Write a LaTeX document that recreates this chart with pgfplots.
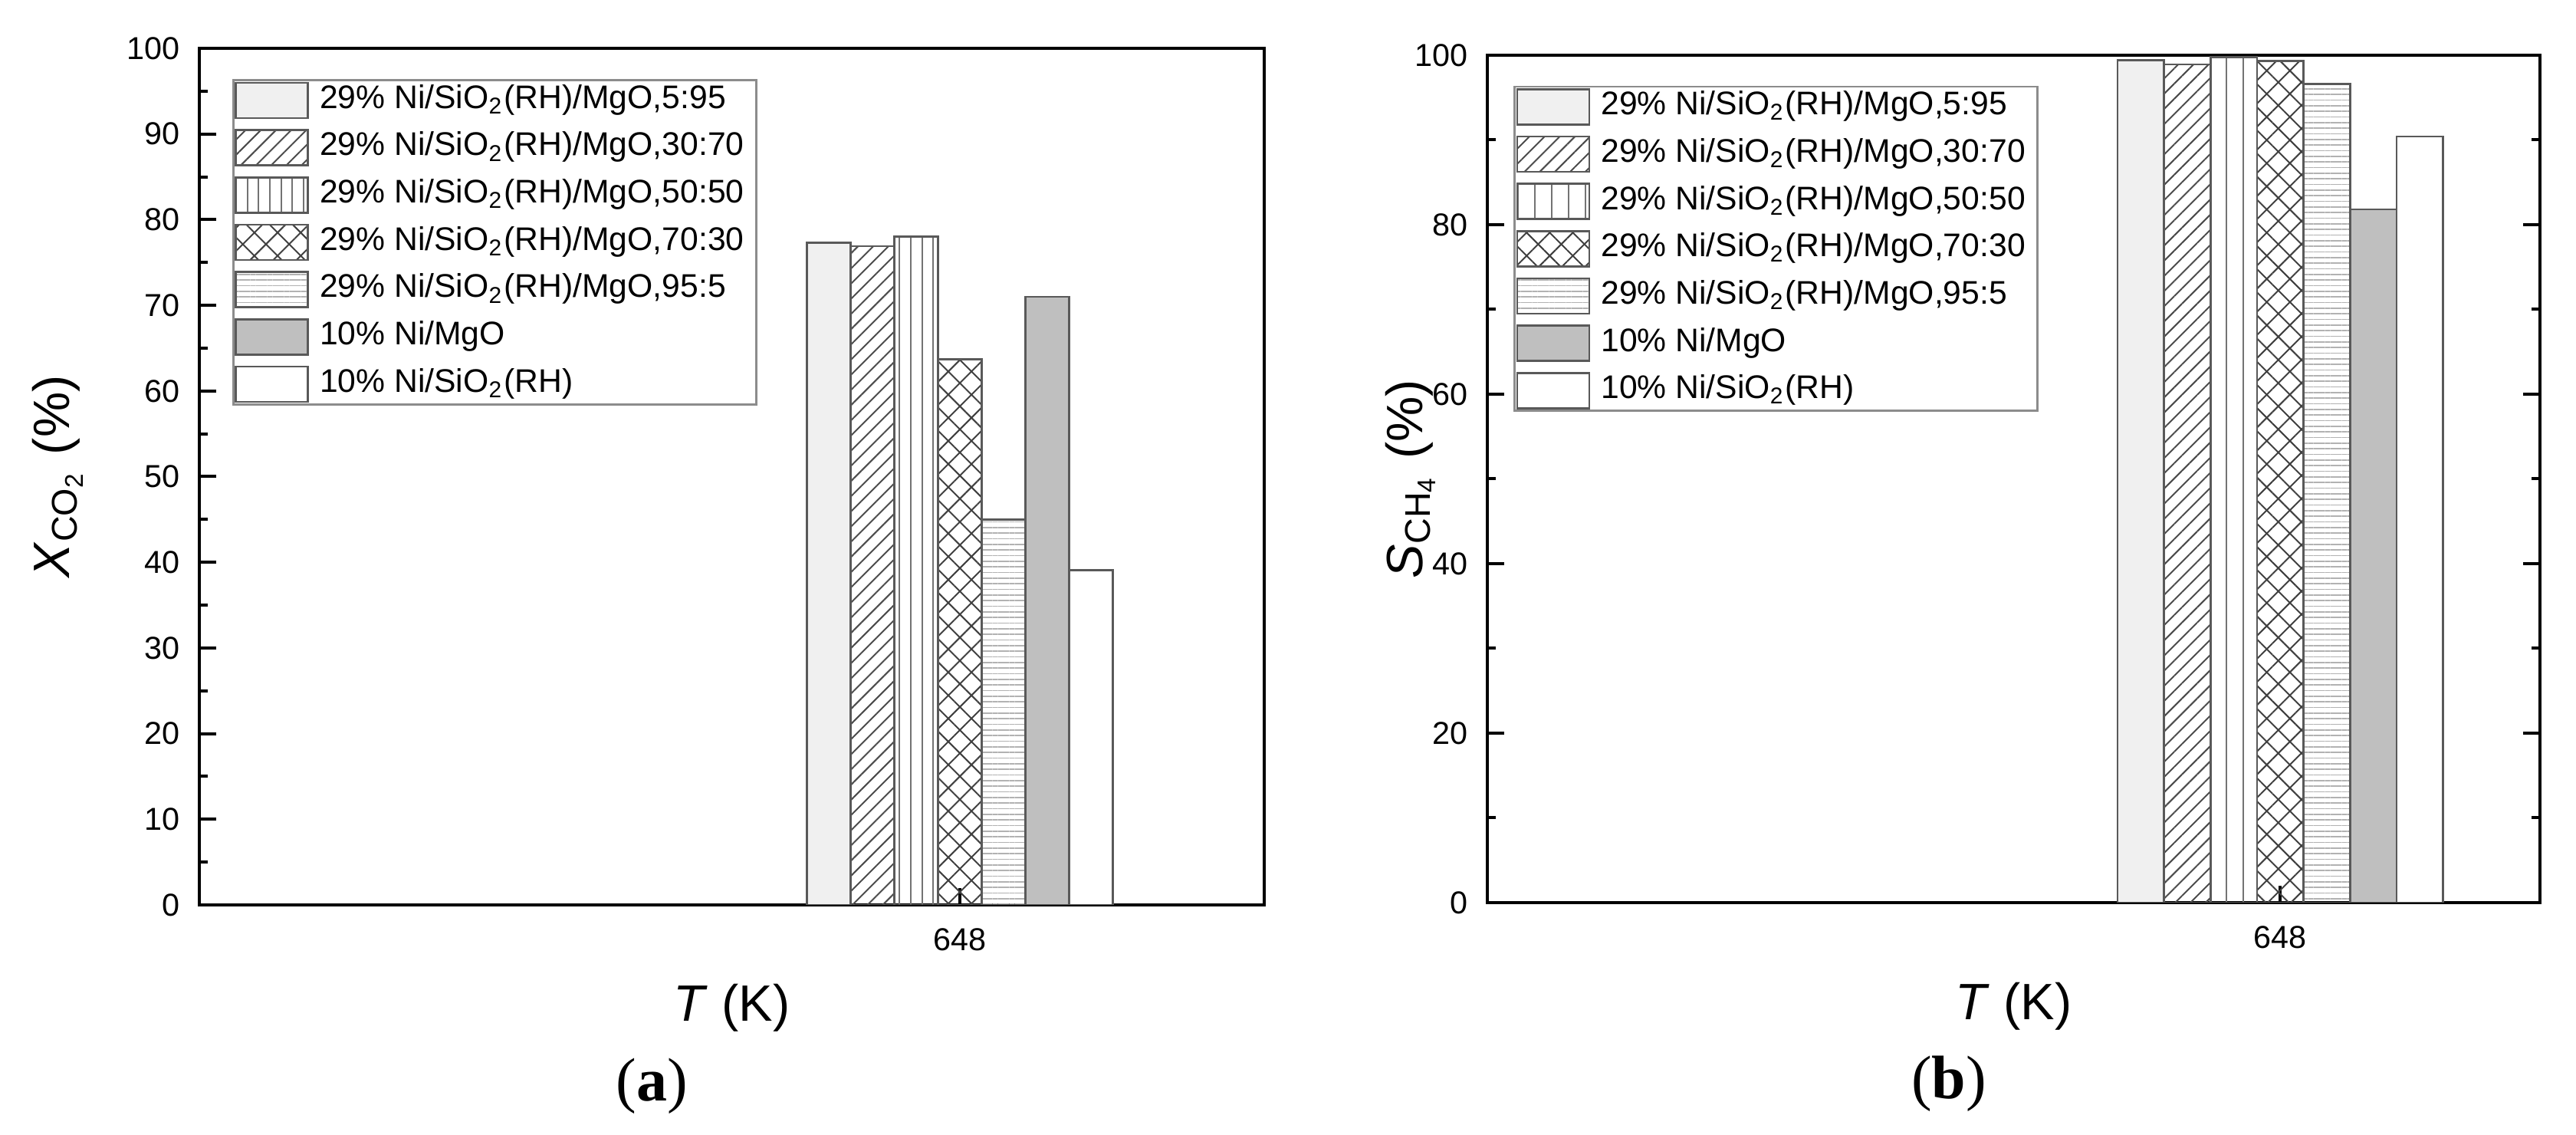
\documentclass[border=0pt]{standalone}
\usepackage{fontspec}
\setmainfont{Liberation Sans}
\newfontfamily\capfont{Liberation Serif}
\usepackage{pgfplots}
\pgfplotsset{compat=1.18}
\usetikzlibrary{patterns.meta}

\newcommand\tlfont{\fontsize{6.2}{7.5}\selectfont}
\newcommand\lgfont{\fontsize{6.4}{7.5}\selectfont}
\newcommand\lbfont{\fontsize{8.4}{10}\selectfont}
\newcommand\sio{SiO\textsubscript{2}}
\newcommand\pad{\hspace{2.6pt}}

\pgfplotsset{
  panel/.style={
    scale only axis, enlargelimits=false,
    ybar=0pt,
    axis line style={line width=0.6pt},
    tick style={line width=0.6pt, black},
    tick align=inside,
    major tick length=3.3pt, minor tick length=1.65pt,
    xtick={0}, xticklabels={648}, xtick pos=lower,
    xticklabel style={yshift=-1pt},
    yticklabel style={xshift=-0.3pt},
    ymin=0, ymax=100,
    tick label style={font=\tlfont},
    /pgf/number format/assume math mode=true,
    label style={font=\lbfont},
    legend cell align=left,
    legend style={draw=black!45, line width=0.4pt, font=\lgfont,
      inner xsep=0.3pt, inner ysep=0.3pt, row sep=1.95pt,
      nodes={inner sep=0pt, inner xsep=2.1pt}},
  },
  lg/.style={/pgfplots/legend image code/.code={\draw[##1] (0pt,-3.45pt) rectangle (14.1pt,3.45pt);}},
  bar/.style={draw=black!65, line width=0.4pt, lg},
  s1/.style={bar, fill=black!6},
  s2/.style={bar, pattern={Lines[angle=45,distance=2.1pt,line width=0.3pt]}, pattern color=black!70},
  s3/.style={bar, pattern={Lines[angle=90,distance=#1,line width=0.3pt]}, pattern color=black!55},
  s4/.style={bar, pattern={Hatch[angle=45,distance=3.2pt,line width=0.3pt]}, pattern color=black!75},
  s5/.style={bar, pattern={Lines[angle=0,distance=1.1pt,line width=0.25pt]}, pattern color=black!30},
  s6/.style={bar, fill=black!25},
  s7/.style={bar, fill=white},
}

\begin{document}
\begin{tikzpicture}
\path[use as bounding box] (0,0) rectangle (504pt,222pt);

% (a) CO2 conversion
\begin{axis}[panel,
  at={(39pt,45pt)}, anchor=south west,
  width=208.35pt, height=167.55pt,
  bar width=8.55pt,
  xmin=-17.4, xmax=6.96,
  ytick={0,10,...,100}, minor ytick={5,15,...,95}, ytick pos=left,
  xlabel={\textit{T} (K)},
  ylabel={\textit{X}\textsubscript{CO\textsubscript{2}} (\%)},
  every axis x label/.style={at={(axis description cs:0.5,-0.12)}, anchor=center},
  every axis y label/.style={at={(axis description cs:-0.133,0.5)}, rotate=90, anchor=center},
  legend style={at={(0.031,0.964)}, anchor=north west},
]
\addplot[s1] coordinates {(0,77.3)};
\addplot[s2] coordinates {(0,76.9)};
\addplot[s3=2.2pt] coordinates {(0,78.0)};
\addplot[s4] coordinates {(0,63.7)};
\addplot[s5] coordinates {(0,45.0)};
\addplot[s6] coordinates {(0,71.0)};
\addplot[s7] coordinates {(0,39.1)};
\addlegendentry{29\% Ni/\sio(RH)/MgO,5:95\pad}
\addlegendentry{29\% Ni/\sio(RH)/MgO,30:70\pad}
\addlegendentry{29\% Ni/\sio(RH)/MgO,50:50\pad}
\addlegendentry{29\% Ni/\sio(RH)/MgO,70:30\pad}
\addlegendentry{29\% Ni/\sio(RH)/MgO,95:5\pad}
\addlegendentry{10\% Ni/MgO\pad}
\addlegendentry{10\% Ni/\sio(RH)\pad}
\end{axis}

% (b) CH4 selectivity
\begin{axis}[panel,
  at={(291pt,45.45pt)}, anchor=south west,
  width=205.95pt, height=165.75pt,
  bar width=9.1pt,
  xmin=-17.04, xmax=5.58,
  ytick={0,20,...,100}, minor ytick={10,30,...,90}, ytick pos=both,
  xlabel={\textit{T} (K)},
  ylabel={\textit{S}\textsubscript{CH\textsubscript{4}} (\%)},
  every axis x label/.style={at={(axis description cs:0.5,-0.122)}, anchor=center},
  every axis y label/.style={at={(axis description cs:-0.073,0.5)}, rotate=90, anchor=center},
  legend style={at={(0.025,0.964)}, anchor=north west},
]
\addplot[s1] coordinates {(0,99.4)};
\addplot[s2] coordinates {(0,98.9)};
\addplot[s3=3.3pt] coordinates {(0,99.8)};
\addplot[s4] coordinates {(0,99.3)};
\addplot[s5] coordinates {(0,96.6)};
\addplot[s6] coordinates {(0,81.8)};
\addplot[s7] coordinates {(0,90.4)};
\addlegendentry{29\% Ni/\sio(RH)/MgO,5:95\pad}
\addlegendentry{29\% Ni/\sio(RH)/MgO,30:70\pad}
\addlegendentry{29\% Ni/\sio(RH)/MgO,50:50\pad}
\addlegendentry{29\% Ni/\sio(RH)/MgO,70:30\pad}
\addlegendentry{29\% Ni/\sio(RH)/MgO,95:5\pad}
\addlegendentry{10\% Ni/MgO\pad}
\addlegendentry{10\% Ni/\sio(RH)\pad}
\end{axis}

\node[font=\capfont\fontsize{12}{14}\selectfont] at (127.5pt,9.6pt) {(\textbf{a})};
\node[font=\capfont\fontsize{12}{14}\selectfont] at (381.3pt,10.05pt) {(\textbf{b})};
\end{tikzpicture}
\end{document}
